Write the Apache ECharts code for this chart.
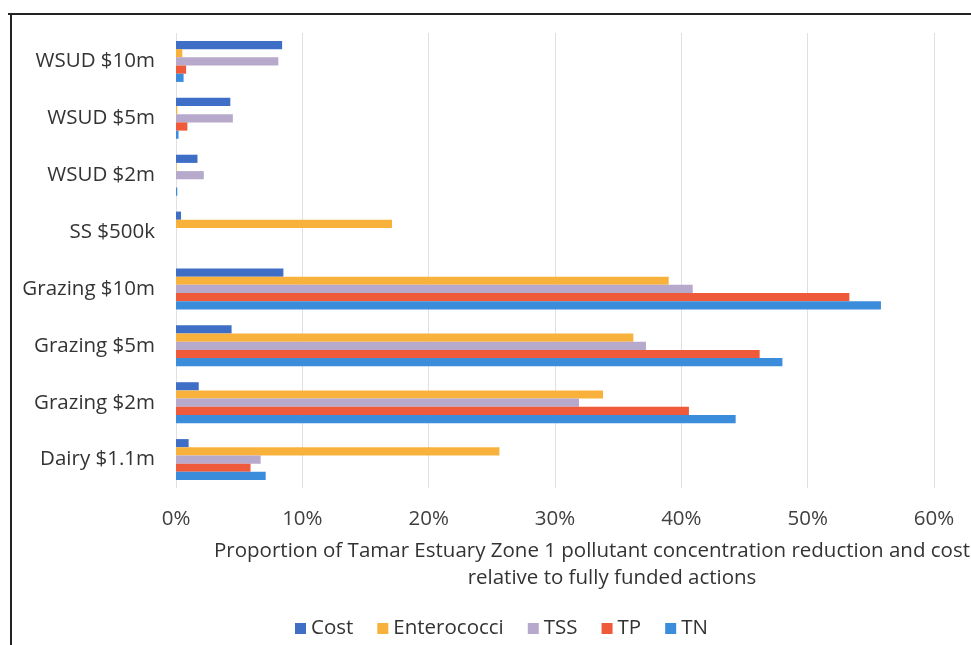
<!DOCTYPE html>
<html>
<head>
<meta charset="utf-8">
<script src="https://cdn.jsdelivr.net/npm/echarts@6/dist/echarts.min.js"></script>
<style>html,body{margin:0;padding:0;background:#fff}#c{width:971px;height:645px}</style>
</head>
<body>
<div id="c"></div>
<script>
var categories = ['Dairy $1.1m', 'Grazing $2m', 'Grazing $5m', 'Grazing $10m', 'SS $500k', 'WSUD $2m', 'WSUD $5m', 'WSUD $10m'];
var seriesNames = ['Cost', 'Enterococci', 'TSS', 'TP', 'TN'];
var cost        = [1.0, 1.8, 4.4, 8.5, 0.4, 1.7, 4.3, 8.4];
var enterococci = [25.6, 33.8, 36.2, 39.0, 17.1, 0.05, 0.1, 0.5];
var tss         = [6.7, 31.9, 37.2, 40.9, 0, 2.2, 4.5, 8.1];
var tp          = [5.9, 40.6, 46.2, 53.3, 0, 0, 0.9, 0.8];
var tn          = [7.1, 44.3, 48.0, 55.8, 0, 0.1, 0.2, 0.6];
var xTicks = [0, 10, 20, 30, 40, 50, 60];
var colors = ['#3f6ec6', '#f8b23c', '#b6a9cb', '#ee5a3a', '#3c8cdc'];
var values = [cost, enterococci, tss, tp, tn];

var FONT = 'Open Sans';
var FS = 20.5;
var chart = echarts.init(document.getElementById('c'));
var series = seriesNames.map(function (n, i) {
  return {
    name: n, type: 'bar', data: values[i],
    itemStyle: { color: colors[i] },
    barGap: '0%', barCategoryGap: '28%'
  };
});
chart.setOption({
  animation: false,
  textStyle: { fontFamily: FONT },
  grid: { left: 176, right: 37, top: 33, bottom: 157, containLabel: false },
  xAxis: {
    type: 'value', min: xTicks[0], max: xTicks[xTicks.length - 1], interval: 10,
    axisLabel: { formatter: '{value}%', color: '#404040', fontSize: FS, fontFamily: FONT, margin: 21 },
    splitLine: { lineStyle: { color: '#e0e0e0', width: 1 } },
    axisLine: { show: false }, axisTick: { show: false }
  },
  yAxis: {
    type: 'category', data: categories,
    axisLabel: { color: '#333', fontSize: FS, fontFamily: FONT, margin: 21 },
    axisLine: { show: false }, axisTick: { show: false }
  },
  legend: {
    data: seriesNames, bottom: 1, left: 290, icon: 'rect', itemWidth: 11, itemHeight: 11, itemGap: 24,
    textStyle: { color: '#333', fontSize: FS, fontFamily: FONT }
  },
  graphic: [
    { type: 'line', shape: { x1: 8, y1: 14, x2: 971, y2: 14 }, style: { stroke: '#222', lineWidth: 2 } },
    { type: 'line', shape: { x1: 11, y1: 14, x2: 11, y2: 645 }, style: { stroke: '#222', lineWidth: 2 } },
    { type: 'text', x: 592, y: 551, style: { text: 'Proportion of Tamar Estuary Zone 1 pollutant concentration reduction and cost', fill: '#333', font: FS + 'px ' + FONT, textAlign: 'center', textVerticalAlign: 'middle' } },
    { type: 'text', x: 612, y: 578, style: { text: 'relative to fully funded actions', fill: '#333', font: FS + 'px ' + FONT, textAlign: 'center', textVerticalAlign: 'middle' } }
  ],
  series: series
});
</script>
</body>
</html>
